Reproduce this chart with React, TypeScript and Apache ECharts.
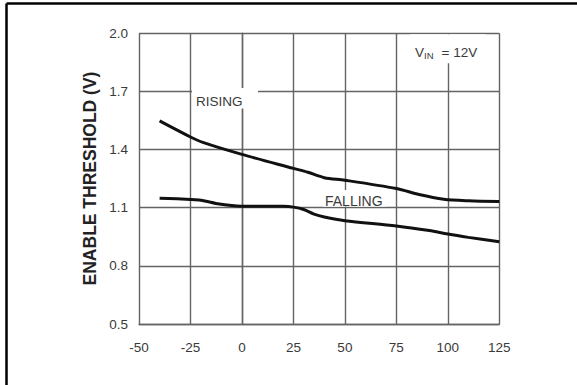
import React, { useEffect, useRef } from "react";
import * as echarts from "echarts";

const xTicks = [-50, -25, 0, 25, 50, 75, 100, 125];
const yTicks = [0.5, 0.8, 1.1, 1.4, 1.7, 2.0];

const risingTemp = [-40, -25, -19, 0, 25, 32, 40, 50, 75, 86, 98, 110, 125];
const risingV = [1.548, 1.465, 1.437, 1.375, 1.303, 1.283, 1.255, 1.242, 1.199, 1.168, 1.144, 1.136, 1.132];

const fallingTemp = [-40, -25, -20, -11, -5, 0, 20, 25, 30, 35, 40, 50, 75, 91, 100, 110, 125];
const fallingV = [1.149, 1.143, 1.139, 1.119, 1.111, 1.108, 1.107, 1.103, 1.091, 1.067, 1.052, 1.033, 1.006, 0.982, 0.964, 0.947, 0.924];

const yTitle = "ENABLE THRESHOLD (V)";
const risingLabel = "RISING";
const fallingLabel = "FALLING";

const FONT = "'Liberation Sans', Arial, Helvetica, sans-serif";
const LABEL_COLOR = "#3a3a3a";
const GRID_COLOR = "#646464";

export default function App() {
  const ref = useRef<HTMLDivElement>(null);
  useEffect(() => {
    if (!ref.current) return;
    const chart = echarts.init(ref.current, null, { renderer: "svg" });
    const rising = risingTemp.map((t, i) => [t, risingV[i]]);
    const falling = fallingTemp.map((t, i) => [t, fallingV[i]]);
    chart.setOption({
      animation: false,
      backgroundColor: "#ffffff",
      grid: { left: 139, top: 33.3, right: 77.7, bottom: 61, containLabel: false },
      xAxis: {
        type: "value",
        min: xTicks[0],
        max: xTicks[xTicks.length - 1],
        interval: 25,
        axisLine: { show: true, lineStyle: { color: GRID_COLOR, width: 1.4 } },
        axisTick: { show: false },
        axisLabel: { color: LABEL_COLOR, fontSize: 13.5, fontFamily: FONT, margin: 16 },
        splitLine: { show: true, lineStyle: { color: GRID_COLOR, width: 1.4 } },
      },
      yAxis: {
        type: "value",
        min: yTicks[0],
        max: yTicks[yTicks.length - 1],
        interval: 0.3,
        axisLine: { show: true, lineStyle: { color: GRID_COLOR, width: 1.4 } },
        axisTick: { show: false },
        axisLabel: {
          color: LABEL_COLOR,
          fontSize: 13.5,
          fontFamily: FONT,
          margin: 11,
          formatter: (v: number) => v.toFixed(1),
        },
        splitLine: { show: true, lineStyle: { color: GRID_COLOR, width: 1.4 } },
      },
      series: [
        {
          type: "line",
          data: rising,
          showSymbol: false,
          smooth: 0.3,
          lineStyle: { color: "#111111", width: 3 },
          z: 5,
        },
        {
          type: "line",
          data: falling,
          showSymbol: false,
          smooth: 0.3,
          lineStyle: { color: "#111111", width: 3 },
          z: 5,
        },
      ],
      graphic: [
        {
          type: "line",
          shape: { x1: 6.5, y1: 3.5, x2: 580, y2: 3.5 },
          style: { stroke: "#000000", lineWidth: 2.5 },
          z: 20,
          silent: true,
        },
        {
          type: "line",
          shape: { x1: 6.5, y1: 3.5, x2: 6.5, y2: 390 },
          style: { stroke: "#000000", lineWidth: 2.5 },
          z: 20,
          silent: true,
        },
        {
          type: "text",
          x: 89.5,
          y: 178.5,
          rotation: Math.PI / 2,
          style: {
            text: yTitle,
            font: `bold 17.5px ${FONT}`,
            fill: "#222222",
            align: "center",
            verticalAlign: "middle",
          },
          z: 20,
        },
        {
          type: "rect",
          shape: { x: 192, y: 88, width: 66, height: 20.5 },
          style: { fill: "#ffffff" },
          z: 10,
        },
        {
          type: "text",
          x: 196,
          y: 101.7,
          style: { text: risingLabel, font: `13.5px ${FONT}`, fill: LABEL_COLOR, align: "left", verticalAlign: "middle" },
          z: 11,
        },
        {
          type: "rect",
          shape: { x: 323, y: 190, width: 63, height: 16.5 },
          style: { fill: "#ffffff" },
          z: 10,
        },
        {
          type: "text",
          x: 325,
          y: 200.5,
          style: { text: fallingLabel, font: `14px ${FONT}`, fill: LABEL_COLOR, align: "left", verticalAlign: "middle" },
          z: 11,
        },
        {
          type: "rect",
          shape: { x: 410, y: 34.2, width: 76, height: 29 },
          style: { fill: "#ffffff" },
          z: 10,
        },
        {
          type: "text",
          x: 415,
          y: 52.3,
          style: { text: "V", font: `13.5px ${FONT}`, fill: LABEL_COLOR, align: "left", verticalAlign: "middle" },
          z: 11,
        },
        {
          type: "text",
          x: 424,
          y: 55.8,
          style: { text: "IN", font: `9.5px ${FONT}`, fill: LABEL_COLOR, align: "left", verticalAlign: "middle" },
          z: 11,
        },
        {
          type: "text",
          x: 441.5,
          y: 52.3,
          style: { text: "= 12V", font: `13.5px ${FONT}`, fill: LABEL_COLOR, align: "left", verticalAlign: "middle" },
          z: 11,
        },
      ],
    });
    return () => chart.dispose();
  }, []);
  return (
    <div
      ref={ref}
      style={{ position: "fixed", left: 0, top: 0, width: 577, height: 385, background: "#fff" }}
    />
  );
}
